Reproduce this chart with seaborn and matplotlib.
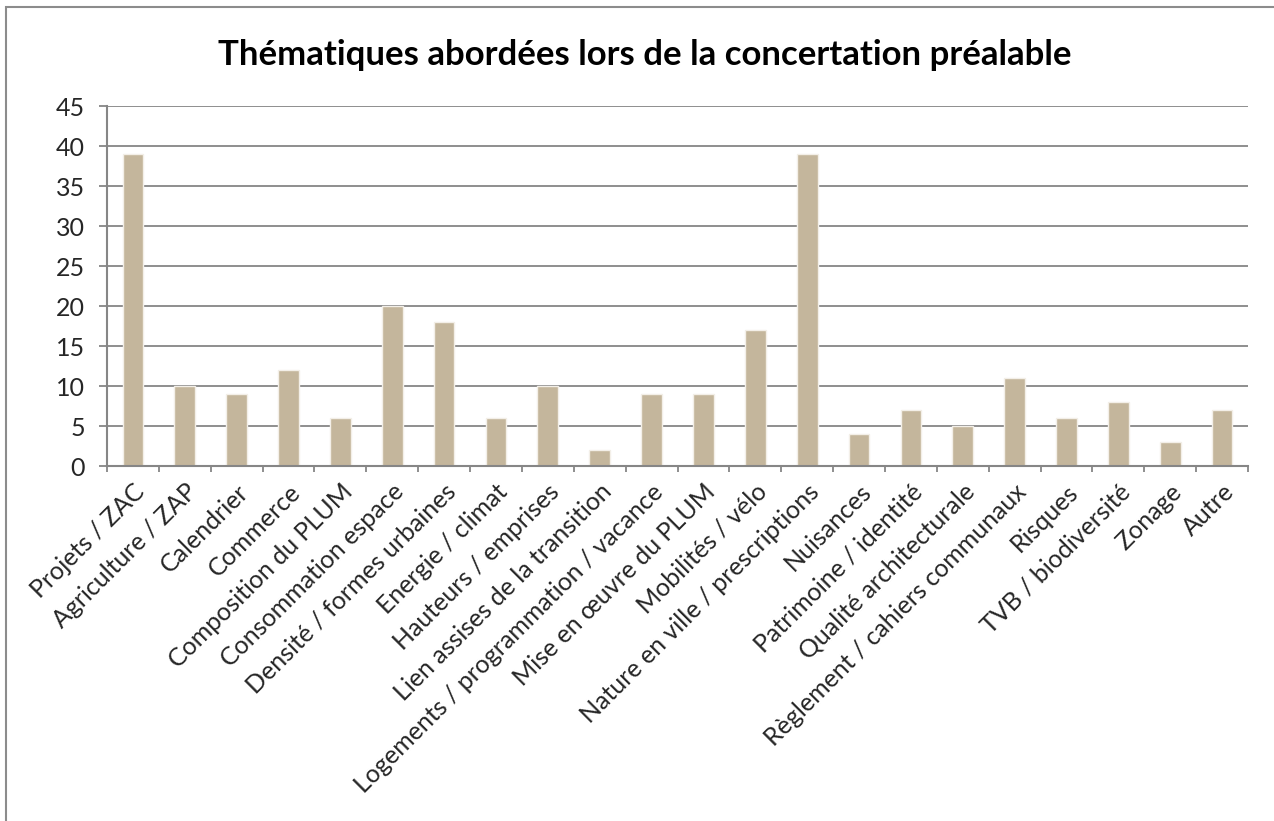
import matplotlib
matplotlib.use("Agg")
import matplotlib.pyplot as plt
from matplotlib.patches import Rectangle
import matplotlib.transforms as mtransforms
import seaborn as sns
import pandas as pd

categories = [
    "Projets / ZAC", "Agriculture / ZAP", "Calendrier", "Commerce",
    "Composition du PLUM", "Consommation espace", "Densité / formes urbaines",
    "Energie / climat", "Hauteurs / emprises", "Lien assises de la transition",
    "Logements / programmation / vacance", "Mise en œuvre du PLUM",
    "Mobilités / vélo", "Nature en ville / prescriptions", "Nuisances",
    "Patrimoine / identité", "Qualité architecturale",
    "Règlement / cahiers communaux", "Risques", "TVB / biodiversité",
    "Zonage", "Autre",
]
counts = [39, 10, 9, 12, 6, 20, 18, 6, 10, 2, 9, 9, 17, 39, 4, 7, 5, 11, 6, 8, 3, 7]
y_ticks = [0, 5, 10, 15, 20, 25, 30, 35, 40, 45]
title = "Thématiques abordées lors de la concertation préalable"

sns.set_theme(style="white")
plt.rcParams["font.family"] = ["Lato", "DejaVu Sans"]

df = pd.DataFrame({"theme": categories, "n": counts})

W, H = 1274, 821
fig = plt.figure(figsize=(W / 100, H / 100), dpi=100)
fig.patch.set_facecolor("white")

# chart-area frame (open at right/bottom edges)
fig.add_artist(Rectangle((6 / W, -0.1), 1.2, 1 - 7 / H + 0.1, transform=fig.transFigure,
                         fill=False, edgecolor="#8c8c8c", linewidth=1.5))

ax = fig.add_axes([107 / W, 1 - 466 / H, (1248 - 107) / W, (466 - 106) / H])
grid_c = "#868686"

sns.barplot(data=df, x="theme", y="n", color="#C4B69C", width=0.4,
            edgecolor="#f3efe8", linewidth=1.0, saturation=1, ax=ax, zorder=3)

ax.set_xlim(-0.5, len(categories) - 0.5)
ax.set_ylim(0, 45)
ax.set_yticks(y_ticks)
ax.set_yticklabels([str(v) for v in y_ticks], fontsize=18)
for v in y_ticks[1:]:
    ax.axhline(v, color=grid_c, linewidth=1.3, zorder=1)

ax.set_xticks(range(len(categories)))
ax.set_xticklabels(categories, rotation=45, ha="right", rotation_mode="anchor", fontsize=18)
shift = mtransforms.ScaledTranslation(-9 / 100, -8 / 100, fig.dpi_scale_trans)
for lbl in ax.get_xticklabels():
    lbl.set_transform(lbl.get_transform() + shift)
ax.set_xticks([i - 0.5 for i in range(len(categories) + 1)], minor=True)
ax.tick_params(axis="x", which="major", bottom=True, length=0, pad=10)
ax.tick_params(axis="x", which="minor", bottom=True, length=4.5, width=1.3,
               color=grid_c, direction="out")
ax.tick_params(axis="y", which="major", left=True, length=6, width=1.3,
               color=grid_c, direction="out", pad=10)
ax.set_xlabel("")
ax.set_ylabel("")

for s in ["top", "right"]:
    ax.spines[s].set_visible(False)
for s in ["left", "bottom"]:
    ax.spines[s].set_color(grid_c)
    ax.spines[s].set_linewidth(1.5)
    ax.spines[s].set_zorder(4)

fig.text(645 / W, 1 - 55 / H, title, ha="center", va="center",
         fontsize=25, fontweight="bold", color="black")

fig.savefig("out.png", dpi=100, facecolor="white")
